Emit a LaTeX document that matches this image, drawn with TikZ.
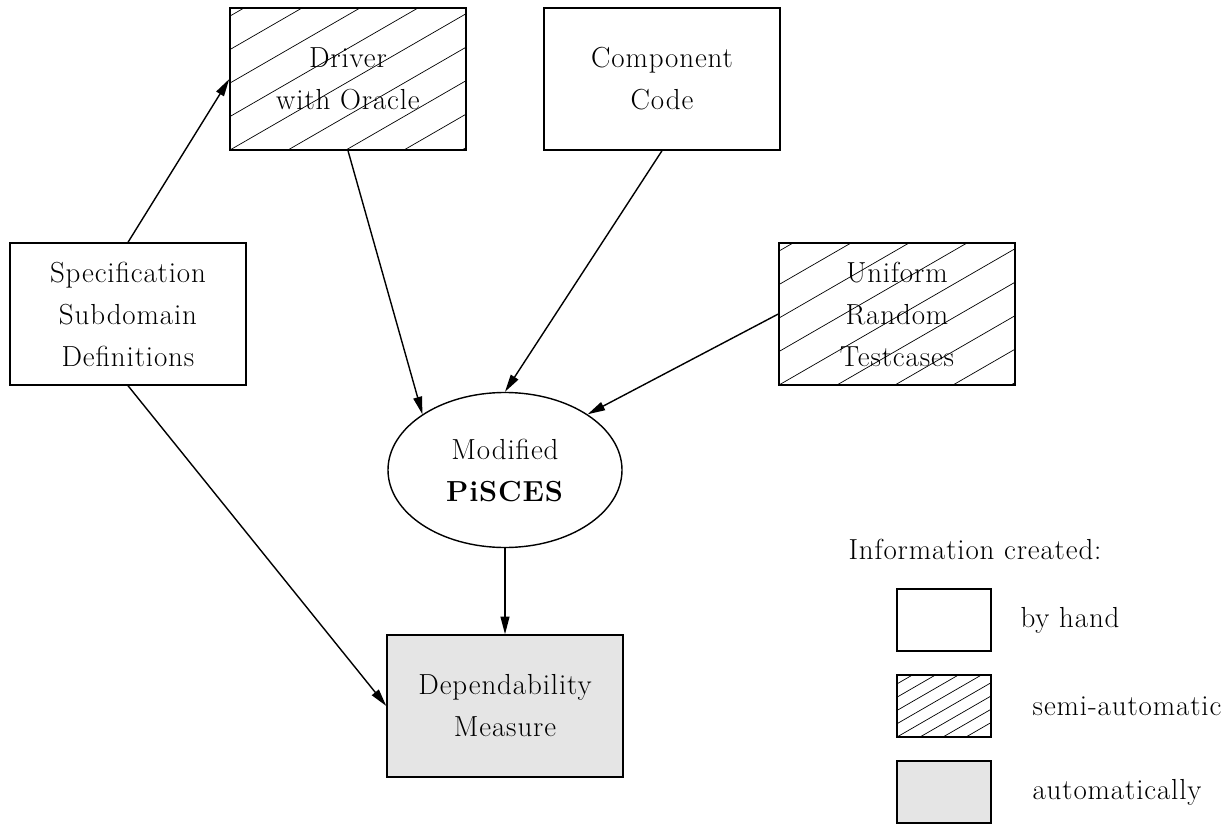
\documentclass[tikz,border=0pt]{standalone}
\usepackage{amsmath}
\usepackage{fontspec}
\setmainfont{Latin Modern Roman}[LetterSpace=3]
\usetikzlibrary{arrows.meta,shapes.geometric}
\definecolor{autogray}{HTML}{E5E5E5}

\begin{document}
\begin{tikzpicture}[line width=0.8pt,
  every node/.style={font=\fontsize{16.5}{23.9}\selectfont, align=center},
  box/.style={draw, minimum width=4.72cm, minimum height=2.84cm},
  key/.style={draw, minimum width=1.88cm, minimum height=1.24cm},
  hatched/.style={path picture={
      \foreach \k in {-6,...,6}
        \draw[line width=0.4pt] ([xshift=\k*#1]path picture bounding box.south west) -- ++(30:10);}},
  flow/.style={-{Triangle[length=10pt,width=5pt]}}]
  \useasboundingbox (0,0) rectangle (24.54,16.5);
  % 上排
  \node[box, hatched=1.16cm] (drv) at (6.96,14.92) {Driver\\with Oracle};
  \node[box] (cmp) at (13.24,14.92) {Component\\Code};
  % 中排
  \node[box] (spec) at (2.56,10.22) {Specification\\Subdomain\\Definitions};
  \node[box, hatched=1.16cm] (uni) at (17.94,10.22) {Uniform\\Random\\Testcases};
  \node[draw, ellipse, minimum width=4.68cm, minimum height=3.1cm] (pis) at (10.1,7.1) {Modified\\\textbf{PiSCES}};
  \node[box, fill=autogray] (dep) at (10.1,2.38) {Dependability\\Measure};
  % 箭头
  \draw[flow] (spec.north) -- (drv.west);
  \draw[flow] (drv.south) -- (pis.146);
  \draw[flow] (cmp.south) -- (pis.north);
  \draw[flow] (uni.west) -- (pis.34);
  \draw[flow] (pis.south) -- (dep.north);
  \draw[flow] (spec.south) -- (dep.west);
  % 图例
  \node (info) at (19.5,5.52) {Information created:};
  \node[key] (k1) at (18.88,4.1) {};
  \node[key, hatched=0.46cm] (k2) at (18.88,2.38) {};
  \node[key, fill=autogray] (k3) at (18.88,0.66) {};
  \node (l1) at (21.4,4.1) {by hand};
  \node (l2) at (22.54,2.38) {semi-automatic};
  \node (l3) at (22.34,0.66) {automatically};
\end{tikzpicture}
\end{document}
